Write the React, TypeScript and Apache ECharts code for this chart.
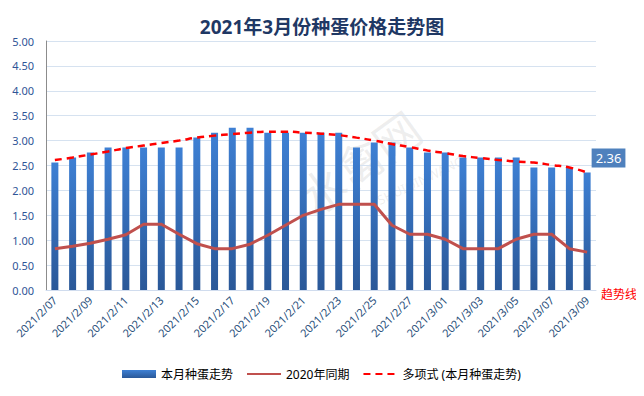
import React, { useEffect, useRef } from "react";
import * as echarts from "echarts";

const dates = [
  "2021/2/07", "2021/2/08", "2021/2/09", "2021/2/10", "2021/2/11", "2021/2/12", "2021/2/13", "2021/2/14",
  "2021/2/15", "2021/2/16", "2021/2/17", "2021/2/18", "2021/2/19", "2021/2/20", "2021/2/21", "2021/2/22",
  "2021/2/23", "2021/2/24", "2021/2/25", "2021/2/26", "2021/2/27", "2021/2/28", "2021/3/01", "2021/3/02",
  "2021/3/03", "2021/3/04", "2021/3/05", "2021/3/06", "2021/3/07", "2021/3/08", "2021/3/09",
];

const thisMonth = [
  2.56, 2.66, 2.76, 2.86, 2.86, 2.86, 2.86, 2.86, 3.06, 3.16, 3.26, 3.26, 3.16, 3.16, 3.16, 3.16,
  3.16, 2.86, 2.96, 2.96, 2.86, 2.76, 2.76, 2.66, 2.66, 2.66, 2.66, 2.46, 2.46, 2.46, 2.36,
];

const lastYear = [
  0.83, 0.88, 0.94, 1.02, 1.11, 1.32, 1.32, 1.12, 0.93, 0.83, 0.83, 0.92, 1.1, 1.3, 1.5, 1.62,
  1.72, 1.72, 1.72, 1.3, 1.12, 1.12, 1.02, 0.83, 0.83, 0.83, 1.02, 1.12, 1.12, 0.83, 0.76,
];

const trend = [
  2.61, 2.66, 2.72, 2.78, 2.85, 2.9, 2.95, 3.0, 3.06, 3.1, 3.13, 3.16, 3.18, 3.18, 3.16, 3.14,
  3.11, 3.06, 3.0, 2.93, 2.87, 2.8, 2.75, 2.69, 2.65, 2.61, 2.58, 2.56, 2.51, 2.46, 2.36,
];

const seriesNames = ["本月种蛋走势", "2020年同期", "多项式 (本月种蛋走势)"];

export default function App() {
  const ref = useRef<HTMLDivElement>(null);
  useEffect(() => {
    if (!ref.current) return;
    const chart = echarts.init(ref.current, undefined, { renderer: "svg" });
    const font = "'Noto Sans', 'Noto Sans CJK SC', sans-serif";
    const lastIdx = thisMonth.length - 1;
    chart.setOption({
      animation: false,
      textStyle: { fontFamily: font },
      title: {
        text: "2021年3月份种蛋价格走势图",
        left: "center",
        top: 12,
        textStyle: { fontSize: 19, fontWeight: "bold", color: "#1F3864", fontFamily: font },
      },
      legend: {
        bottom: 11,
        left: 117,
        itemWidth: 34,
        itemHeight: 8,
        itemGap: 13,
        textStyle: { fontSize: 12, color: "#000", fontFamily: font },
        data: [
          { name: seriesNames[0], icon: "rect" },
          { name: seriesNames[1], itemStyle: { opacity: 0 } },
          { name: seriesNames[2], itemStyle: { opacity: 0 } },
        ],
      },
      grid: { left: 46, right: 48, top: 41, bottom: 106, containLabel: false },
      xAxis: {
        type: "category",
        data: dates,
        axisTick: { show: false },
        axisLine: { lineStyle: { color: "#D0DCEE" } },
        axisLabel: { interval: 1, rotate: 45, fontSize: 11, color: "#1F4E79", margin: 8 },
      },
      yAxis: {
        type: "value",
        min: 0,
        max: 5,
        interval: 0.5,
        axisLine: { show: true, lineStyle: { color: "#8C8C8C" } },
        axisTick: { show: false },
        splitLine: { lineStyle: { color: "#D6E2F0" } },
        axisLabel: {
          formatter: (v: number) => v.toFixed(2),
          fontSize: 11,
          color: "#2F5597",
          margin: 12,
        },
      },
      series: [
        {
          name: seriesNames[0],
          type: "bar",
          barWidth: 7,
          itemStyle: {
            color: new echarts.graphic.LinearGradient(0, 0, 0, 1, [
              { offset: 0, color: "#3E80D4" },
              { offset: 1, color: "#2A5898" },
            ]),
          },
          data: thisMonth.map((v, i) =>
            i === lastIdx
              ? {
                  value: v,
                  label: {
                    show: true,
                    position: [8, -24],
                    formatter: (p: any) => p.value.toFixed(2),
                    backgroundColor: "#4F81BD",
                    color: "#fff",
                    fontSize: 13,
                    padding: [3, 4, 3, 4],
                  },
                }
              : v
          ),
          z: 2,
        },
        {
          name: seriesNames[1],
          type: "line",
          symbol: "none",
          data: lastYear,
          lineStyle: { color: "#C0504D", width: 3 },
          itemStyle: { color: "#C0504D" },
          z: 3,
        },
        {
          name: seriesNames[2],
          type: "line",
          symbol: "none",
          smooth: true,
          data: trend,
          lineStyle: { color: "#FF0000", width: 2.5, type: [7, 5] },
          itemStyle: { color: "#FF0000" },
          z: 4,
        },
      ],
      graphic: [
        {
          type: "text",
          left: 601,
          top: 288,
          style: { text: "趋势线", fill: "#FF0000", fontSize: 12, fontFamily: font },
        },
        {
          type: "text",
          x: 290,
          y: 185,
          rotation: Math.PI / 5,
          style: { text: "水禽网", fill: "rgba(150,150,150,0.16)", fontSize: 46, fontFamily: font },
        },
        {
          type: "text",
          x: 375,
          y: 195,
          rotation: Math.PI / 7,
          style: { text: "SHUIQINWANG", fill: "rgba(150,150,150,0.16)", fontSize: 13, fontFamily: font },
        },
      ],
    });
    return () => chart.dispose();
  }, []);
  return <div ref={ref} style={{ width: 644, height: 396, margin: -8 }} />;
}
